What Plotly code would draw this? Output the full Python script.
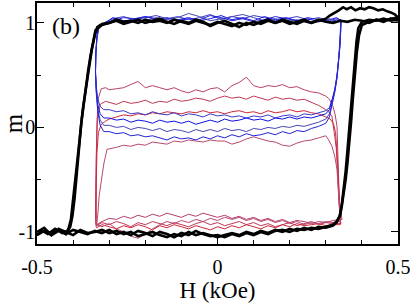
import plotly.graph_objects as go

# ---------------- axis ticks ----------------
x_tickvals = [-0.5, 0.0, 0.5]
x_ticktext = ["-0.5", "0", "0.5"]
x_minor = [-0.4, -0.3, -0.2, -0.1, 0.1, 0.2, 0.3, 0.4]
y_tickvals = [-1, 0, 1]
y_ticktext = ["-1", "0", "1"]
y_minor = [-0.5, 0.5]

# ---------------- black major loops ----------------
bk1_H_desc = [0.50, 0.48, 0.46, 0.44, 0.42, 0.40, 0.38, 0.36, 0.34, 0.32, 0.30, 0.28, 0.26, 0.24, 0.22, 0.20, 0.18, 0.16, 0.14, 0.12,
              0.10, 0.08, 0.06, 0.04, 0.02, 0.00, -0.02, -0.04, -0.06, -0.08, -0.10, -0.12, -0.14, -0.16, -0.18, -0.20, -0.22, -0.24, -0.26, -0.28,
              -0.30, -0.32, -0.333, -0.340, -0.348, -0.355, -0.360, -0.366, -0.372, -0.378, -0.384, -0.390, -0.396, -0.402, -0.408, -0.415,
              -0.43, -0.45, -0.47, -0.49, -0.50]
bk1_m_desc = [1.02, 1.04, 1.01, 1.03, 1.00, 1.02, 1.03, 1.01, 1.02, 1.00, 1.01, 1.03, 1.00, 1.02, 0.99, 1.01, 1.03, 1.00, 1.02, 0.99,
              1.01, 0.98, 1.00, 0.97, 0.99, 1.01, 0.98, 1.00, 1.02, 0.99, 1.01, 1.03, 1.00, 1.02, 1.01, 1.03, 1.00, 1.02, 1.01, 1.03,
              1.00, 0.99, 0.96, 0.88, 0.75, 0.60, 0.50, 0.35, 0.20, 0.02, -0.18, -0.45, -0.68, -0.85, -0.95, -0.99,
              -1.01, -0.97, -1.02, -0.98, -1.00]
bk1_H_asc = [-0.50, -0.48, -0.46, -0.44, -0.42, -0.40, -0.38, -0.36, -0.34, -0.32, -0.30, -0.28, -0.26, -0.24, -0.22, -0.20, -0.18, -0.16, -0.14, -0.12,
             -0.10, -0.08, -0.06, -0.04, -0.02, 0.00, 0.02, 0.04, 0.06, 0.08, 0.10, 0.12, 0.14, 0.16, 0.18, 0.20, 0.22, 0.24, 0.26, 0.28,
             0.30, 0.31, 0.32, 0.33, 0.34, 0.345, 0.350, 0.355, 0.360, 0.365, 0.370, 0.375, 0.380, 0.385,
             0.39, 0.40, 0.42, 0.44, 0.46, 0.48, 0.50]
bk1_m_asc = [-1.00, -0.96, -1.03, -0.99, -1.02, -0.98, -1.00, -1.02, -0.99, -1.01, -0.98, -1.02, -1.00, -1.03, -0.99, -1.01, -1.04, -1.00, -1.02, -1.05,
             -1.01, -1.03, -0.99, -1.02, -1.04, -1.03, -1.05, -1.02, -1.04, -1.01, -1.03, -1.00, -1.02, -0.99, -0.98, -1.00, -0.97, -0.98, -0.96, -0.97,
             -0.95, -0.94, -0.93, -0.90, -0.84, -0.72, -0.58, -0.42, -0.22, -0.02, 0.22, 0.44, 0.64, 0.82,
             0.95, 1.01, 1.03, 1.02, 1.04, 1.02, 1.03]

bk2_H_desc = [0.50, 0.492, 0.480, 0.470, 0.458, 0.445, 0.432, 0.420, 0.408, 0.395, 0.382, 0.370, 0.358, 0.348, 0.336, 0.325, 0.311,
              0.30, 0.28, 0.26, 0.24, 0.22, 0.20, 0.18, 0.16, 0.14, 0.12, 0.10, 0.08, 0.06, 0.04, 0.02, 0.00, -0.02, -0.04, -0.06, -0.08,
              -0.10, -0.12, -0.14, -0.16, -0.18, -0.20, -0.22, -0.24, -0.26, -0.28, -0.30, -0.32,
              -0.338, -0.345, -0.352, -0.358, -0.364, -0.370, -0.376, -0.382, -0.388, -0.394, -0.400, -0.406, -0.412,
              -0.42, -0.44, -0.46, -0.48, -0.50]
bk2_m_desc = [1.05, 1.08, 1.10, 1.11, 1.13, 1.12, 1.14, 1.15, 1.13, 1.14, 1.12, 1.15, 1.13, 1.15, 1.12, 1.10, 1.07,
              1.04, 1.02, 1.00, 1.03, 1.01, 0.99, 1.02, 1.00, 1.03, 1.01, 0.98, 1.00, 0.96, 0.99, 1.02, 1.00, 0.97, 1.01, 1.03, 1.00,
              1.02, 0.99, 1.01, 1.04, 1.02, 1.00, 1.03, 1.01, 0.99, 1.02, 1.00, 0.98,
              0.93, 0.82, 0.68, 0.55, 0.40, 0.25, 0.08, -0.12, -0.32, -0.52, -0.72, -0.88, -0.96,
              -1.02, -0.97, -1.03, -0.99, -1.02]
bk2_H_asc = [-0.50, -0.48, -0.46, -0.44, -0.42, -0.40, -0.38, -0.36, -0.34, -0.32, -0.30, -0.28, -0.26, -0.24, -0.22, -0.20, -0.18, -0.16, -0.14, -0.12,
             -0.10, -0.08, -0.06, -0.04, -0.02, 0.00, 0.02, 0.04, 0.06, 0.08, 0.10, 0.12, 0.14, 0.16, 0.18, 0.20, 0.22, 0.24, 0.26, 0.28,
             0.30, 0.31, 0.32, 0.33, 0.338, 0.344, 0.350, 0.355, 0.360, 0.365, 0.370, 0.375, 0.380, 0.386, 0.392,
             0.40, 0.42, 0.44, 0.46, 0.48, 0.50]
bk2_m_asc = [-1.03, -0.99, -1.01, -0.97, -1.00, -1.03, -0.98, -1.01, -1.00, -0.98, -1.01, -0.99, -1.02, -1.00, -1.04, -1.02, -1.00, -1.03, -1.05, -1.02,
             -1.04, -1.00, -1.03, -1.01, -1.03, -1.05, -1.03, -1.01, -1.03, -1.00, -1.02, -0.99, -1.01, -0.98, -1.00, -0.97, -0.99, -0.96, -0.98, -0.95,
             -0.96, -0.95, -0.94, -0.91, -0.85, -0.76, -0.64, -0.50, -0.34, -0.16, 0.05, 0.28, 0.50, 0.72, 0.88,
             0.98, 1.01, 1.03, 1.02, 1.04, 1.05]

# ---------------- blue minor loops (from positive saturation) ----------------
blue_top_H = [0.342, 0.33, 0.31, 0.28, 0.25, 0.22, 0.19, 0.16, 0.13, 0.10, 0.07, 0.04, 0.01, -0.02, -0.05, -0.08,
              -0.11, -0.14, -0.17, -0.20, -0.23, -0.26, -0.29, -0.315]
blue_desc_H = [-0.328, -0.334, -0.337, -0.338, -0.336, -0.332, -0.325, -0.315]
level_H = [-0.30, -0.28, -0.26, -0.24, -0.22, -0.20, -0.18, -0.16, -0.14, -0.12, -0.10, -0.08, -0.06, -0.04, -0.02, 0.00,
           0.02, 0.04, 0.06, 0.08, 0.10, 0.12, 0.14, 0.16, 0.18, 0.20, 0.22, 0.24, 0.26, 0.28, 0.30]
blue_rise_H = [0.31, 0.318, 0.325, 0.331, 0.336, 0.339, 0.341, 0.342]

b1_top = [1.03, 1.04, 1.02, 1.05, 1.03, 1.06, 1.04, 1.02, 1.05, 1.07, 1.04, 1.06, 1.03, 1.08, 1.05, 1.03, 1.06, 1.04, 1.07, 1.05, 1.03, 1.06, 1.04, 1.00]
b1_desc = [0.97, 0.88, 0.72, 0.55, 0.40, 0.28, 0.20, 0.17]
b1_level = [0.17, 0.15, 0.16, 0.13, 0.14, 0.12, 0.15, 0.13, 0.12, 0.14, 0.11, 0.13, 0.12, 0.10, 0.13, 0.11,
            0.12, 0.10, 0.11, 0.09, 0.11, 0.10, 0.12, 0.09, 0.11, 0.12, 0.10, 0.13, 0.12, 0.14, 0.16]
b1_rise = [0.19, 0.27, 0.37, 0.50, 0.66, 0.80, 0.93, 1.03]

b2_top = [1.02, 1.05, 1.03, 1.01, 1.04, 1.02, 1.05, 1.03, 1.06, 1.02, 1.05, 1.03, 1.07, 1.04, 1.02, 1.05, 1.03, 1.01, 1.04, 1.06, 1.03, 1.02, 1.05, 0.99]
b2_desc = [0.98, 0.86, 0.70, 0.52, 0.36, 0.22, 0.13, 0.09]
b2_level = [0.09, 0.07, 0.08, 0.05, 0.07, 0.06, 0.04, 0.07, 0.05, 0.06, 0.04, 0.06, 0.03, 0.05, 0.07, 0.05,
            0.08, 0.06, 0.07, 0.09, 0.07, 0.08, 0.06, 0.09, 0.08, 0.10, 0.08, 0.10, 0.09, 0.11, 0.13]
b2_rise = [0.17, 0.26, 0.36, 0.49, 0.64, 0.79, 0.92, 1.02]

b3_top = [1.03, 1.01, 1.04, 1.02, 1.00, 1.03, 1.01, 1.04, 1.02, 1.05, 1.08, 1.06, 1.04, 1.02, 1.06, 1.09, 1.05, 1.03, 1.05, 1.02, 1.04, 1.01, 1.03, 0.98]
b3_desc = [0.96, 0.85, 0.68, 0.50, 0.33, 0.18, 0.07, 0.02]
b3_level = [0.02, 0.00, 0.01, -0.02, 0.00, -0.01, -0.03, -0.01, -0.04, -0.02, -0.03, -0.05, -0.02, -0.04, -0.02, -0.04,
            -0.01, -0.03, -0.02, -0.04, -0.01, -0.02, 0.00, -0.01, 0.01, 0.00, 0.02, 0.01, 0.03, 0.05, 0.08]
b3_rise = [0.13, 0.24, 0.35, 0.48, 0.63, 0.78, 0.91, 1.03]

b4_top = [1.02, 1.03, 1.00, 1.03, 1.05, 1.02, 1.04, 1.06, 1.03, 1.01, 1.04, 1.02, 1.05, 1.07, 1.03, 1.04, 1.02, 1.05, 1.03, 1.06, 1.04, 1.05, 1.02, 0.99]
b4_desc = [0.97, 0.87, 0.71, 0.53, 0.35, 0.16, 0.02, -0.04]
b4_level = [-0.04, -0.06, -0.05, -0.08, -0.07, -0.09, -0.08, -0.10, -0.12, -0.09, -0.11, -0.10, -0.12, -0.09, -0.11, -0.08,
            -0.10, -0.07, -0.09, -0.06, -0.08, -0.07, -0.05, -0.07, -0.04, -0.06, -0.03, -0.04, -0.01, 0.01, 0.04]
b4_rise = [0.10, 0.22, 0.34, 0.47, 0.62, 0.77, 0.90, 1.02]

# ---------------- red minor loops (from negative saturation) ----------------
red_bot_H = [-0.335, -0.32, -0.30, -0.28, -0.26, -0.24, -0.22, -0.20, -0.18, -0.16, -0.14, -0.12, -0.10, -0.08, -0.06, -0.04, -0.02,
             0.00, 0.02, 0.04, 0.06, 0.08, 0.10, 0.12, 0.14, 0.16, 0.18, 0.20, 0.22, 0.24, 0.26, 0.28, 0.30, 0.32]

r1_bot = [-0.93, -0.90, -0.87, -0.88, -0.85, -0.87, -0.84, -0.86, -0.83, -0.85, -0.82, -0.84, -0.86, -0.83, -0.85, -0.82, -0.84,
          -0.86, -0.84, -0.87, -0.85, -0.88, -0.86, -0.89, -0.87, -0.90, -0.88, -0.91, -0.89, -0.90, -0.92, -0.90, -0.91, -0.89]
r1_rise_H = [0.345, 0.339, 0.336, 0.334, 0.331, 0.326, 0.32, 0.31]
r1_rise = [-0.88, -0.78, -0.55, -0.31, 0.01, 0.12, 0.20, 0.27]
r1_level = [0.36, 0.37, 0.38, 0.41, 0.44, 0.38, 0.40, 0.38, 0.36, 0.38, 0.35, 0.33, 0.36, 0.34, 0.37, 0.38,
            0.34, 0.40, 0.43, 0.48, 0.40, 0.38, 0.40, 0.39, 0.41, 0.38, 0.39, 0.36, 0.34, 0.33, 0.30]
r1_drop_H = [-0.31, -0.322, -0.330, -0.334, -0.336, -0.337, -0.337]
r1_drop = [0.38, 0.37, 0.28, 0.05, -0.35, -0.70, -0.88]

r2_bot = [-0.94, -0.91, -0.93, -0.90, -0.92, -0.95, -0.91, -0.93, -0.90, -0.92, -0.94, -0.91, -0.93, -0.95, -0.92, -0.90, -0.93,
          -0.91, -0.94, -0.92, -0.90, -0.93, -0.91, -0.94, -0.92, -0.95, -0.93, -0.91, -0.94, -0.92, -0.90, -0.93, -0.91, -0.92]
r2_rise_H = [0.342, 0.339, 0.336, 0.334, 0.329, 0.325, 0.317, 0.308]
r2_rise = [-0.92, -0.85, -0.62, -0.47, -0.20, -0.09, 0.105, 0.15]
r2_level = [0.24, 0.22, 0.25, 0.23, 0.24, 0.26, 0.23, 0.25, 0.24, 0.27, 0.25, 0.26, 0.28, 0.27, 0.25, 0.28,
            0.30, 0.28, 0.29, 0.27, 0.30, 0.28, 0.26, 0.29, 0.27, 0.28, 0.26, 0.27, 0.24, 0.21, 0.17]
r2_drop_H = [-0.31, -0.325, -0.332, -0.335, -0.337, -0.338, -0.337]
r2_drop = [0.25, 0.22, 0.10, -0.15, -0.50, -0.80, -0.93]

r3_bot = [-0.96, -0.93, -0.95, -0.97, -0.94, -0.96, -0.93, -0.95, -0.98, -0.94, -0.96, -0.93, -0.95, -0.97, -0.94, -0.96, -0.98,
          -0.95, -0.97, -0.94, -0.96, -0.93, -0.95, -0.97, -0.94, -0.96, -0.93, -0.95, -0.92, -0.94, -0.93, -0.92, -0.94, -0.93]
r3_rise_H = [0.34, 0.338, 0.336, 0.334, 0.331, 0.327, 0.321, 0.312]
r3_rise = [-0.93, -0.80, -0.60, -0.40, -0.20, -0.05, 0.04, 0.08]
r3_level = [0.08, 0.10, 0.12, 0.11, 0.13, 0.12, 0.14, 0.13, 0.15, 0.14, 0.13, 0.15, 0.14, 0.16, 0.14, 0.15,
            0.13, 0.15, 0.16, 0.14, 0.15, 0.13, 0.16, 0.14, 0.15, 0.17, 0.15, 0.16, 0.14, 0.13, 0.10]
r3_drop_H = [-0.31, -0.322, -0.33, -0.334, -0.336, -0.337, -0.336]
r3_drop = [0.06, 0.03, -0.05, -0.25, -0.55, -0.82, -0.95]

r4_bot = [-0.93, -0.95, -0.92, -0.97, -1.00, -1.04, -1.06, -1.02, -0.97, -0.93, -0.90, -0.92, -0.89, -0.91, -0.88, -0.90, -0.87,
          -0.89, -0.86, -0.88, -0.86, -0.89, -0.87, -0.90, -0.88, -0.91, -0.89, -0.92, -0.90, -0.93, -0.91, -0.92, -0.90, -0.91]
r4_rise_H = [0.34, 0.339, 0.337, 0.334, 0.331, 0.325, 0.317, 0.308]
r4_rise = [-0.90, -0.85, -0.72, -0.55, -0.40, -0.28, -0.18, -0.12]
r4_level = [-0.20, -0.19, -0.17, -0.18, -0.16, -0.17, -0.14, -0.15, -0.16, -0.13, -0.14, -0.12, -0.13, -0.14, -0.12, -0.13,
            -0.13, -0.16, -0.14, -0.11, -0.09, -0.11, -0.13, -0.14, -0.17, -0.18, -0.15, -0.13, -0.12, -0.10, -0.08]
r4_drop_H = [-0.306, -0.315, -0.322, -0.328, -0.331, -0.334, -0.335]
r4_drop = [-0.21, -0.35, -0.50, -0.66, -0.81, -0.90, -0.94]

fig = go.Figure()

red_loops = [
    (r1_bot, r1_rise_H, r1_rise, r1_level, r1_drop_H, r1_drop, "#b8406a"),
    (r2_bot, r2_rise_H, r2_rise, r2_level, r2_drop_H, r2_drop, "#c03858"),
    (r3_bot, r3_rise_H, r3_rise, r3_level, r3_drop_H, r3_drop, "#d02838"),
    (r4_bot, r4_rise_H, r4_rise, r4_level, r4_drop_H, r4_drop, "#b84870"),
]
for bot, rH, rm, lev, dH, dm, col in red_loops:
    xs = red_bot_H + rH + level_H[::-1] + dH + [red_bot_H[0]]
    ys = bot + rm + lev[::-1] + dm + [bot[0]]
    fig.add_trace(go.Scatter(x=xs, y=ys, mode="lines", line=dict(color=col, width=1), hoverinfo="skip"))

blue_loops = [
    (b1_top, b1_desc, b1_level, b1_rise, "#3a3ac8"),
    (b2_top, b2_desc, b2_level, b2_rise, "#1010e8"),
    (b3_top, b3_desc, b3_level, b3_rise, "#4646b4"),
    (b4_top, b4_desc, b4_level, b4_rise, "#2222d8"),
]
for top, desc, lev, rise, col in blue_loops:
    xs = blue_top_H + blue_desc_H + level_H + blue_rise_H
    ys = top + desc + lev + rise
    fig.add_trace(go.Scatter(x=xs, y=ys, mode="lines", line=dict(color=col, width=1), hoverinfo="skip"))

for Hd, md, Ha, ma in [(bk1_H_desc, bk1_m_desc, bk1_H_asc, bk1_m_asc),
                       (bk2_H_desc, bk2_m_desc, bk2_H_asc, bk2_m_asc)]:
    fig.add_trace(go.Scatter(x=Hd + Ha, y=md + ma, mode="lines",
                             line=dict(color="black", width=2.6), hoverinfo="skip"))

axis_common = dict(showline=True, linewidth=1.5, linecolor="black", mirror="allticks",
                   ticks="inside", ticklen=7, tickwidth=1.2, tickcolor="black",
                   showgrid=False, zeroline=False, tickmode="array", automargin=False)

fig.update_layout(
    width=415, height=303,
    margin=dict(l=37, r=17, t=3, b=59),
    plot_bgcolor="white", paper_bgcolor="white",
    showlegend=False,
    font=dict(family="Liberation Serif", color="black"),
    xaxis=dict(range=[-0.5, 0.5], tickvals=x_tickvals, ticktext=x_ticktext,
               tickfont=dict(size=20), ticklabelstandoff=4,
               minor=dict(tickmode="array", tickvals=x_minor, ticks="inside", ticklen=4, tickcolor="black", tickwidth=1.2),
               title=dict(text="H (kOe)", font=dict(size=23), standoff=2),
               **axis_common),
    yaxis=dict(range=[-1.115, 1.19], tickvals=y_tickvals, ticktext=y_ticktext,
               tickfont=dict(size=20), ticklabelstandoff=-4,
               minor=dict(tickmode="array", tickvals=y_minor, ticks="inside", ticklen=4, tickcolor="black", tickwidth=1.2),
               title=dict(text="m", font=dict(size=25), standoff=4),
               **axis_common),
    annotations=[dict(text="(b)", x=0.080, y=0.905, xref="paper", yref="paper",
                      xanchor="center", yanchor="middle",
                      showarrow=False, font=dict(size=24, family="Liberation Serif"))],
)

fig.write_html("out.html", config={"displayModeBar": False},
               post_script="document.body.style.margin='0';document.body.style.padding='0';")
